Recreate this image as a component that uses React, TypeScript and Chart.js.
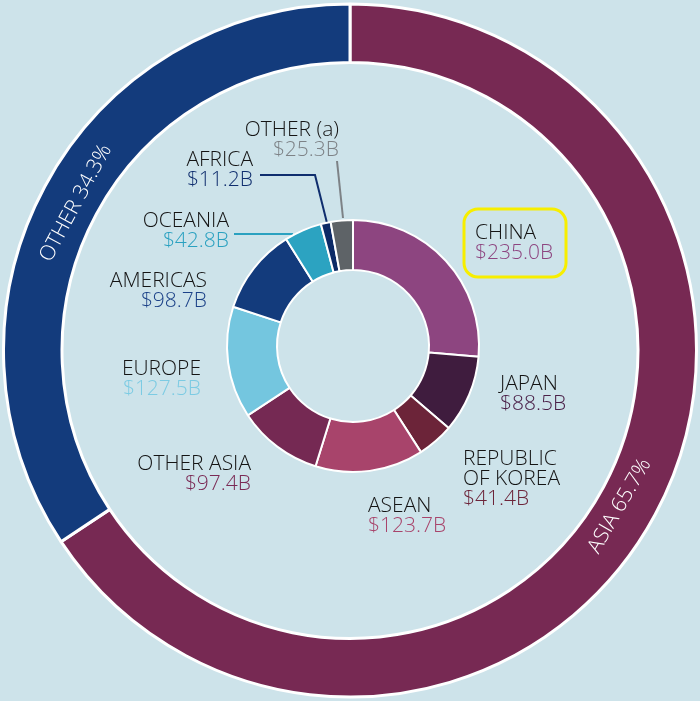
import React, { useEffect, useRef } from "react";
import { Chart, registerables } from "chart.js";

Chart.register(...registerables);

// ---------- data ----------
const regionLabels = ["ASIA", "OTHER"];
const regionShares = [65.7, 34.3];
const regionColors = ["#772953", "#133b7c"];

const marketLabels = [
  "CHINA",
  "JAPAN",
  "REPUBLIC OF KOREA",
  "ASEAN",
  "OTHER ASIA",
  "EUROPE",
  "AMERICAS",
  "OCEANIA",
  "AFRICA",
  "OTHER (a)",
];
const marketValues = [235.0, 88.5, 41.4, 123.7, 97.4, 127.5, 98.7, 42.8, 11.2, 25.3];
const marketColors = [
  "#8d4580",
  "#3f1c3e",
  "#6c2439",
  "#a8446b",
  "#752953",
  "#74c6df",
  "#133b7c",
  "#2ca3c1",
  "#0c2a66",
  "#5e6367",
];
const valueTextColors = [
  "#8d4580",
  "#4a2048",
  "#6c2439",
  "#a8446b",
  "#7a2a55",
  "#7ccbe3",
  "#1c4288",
  "#2aa1c0",
  "#0f2e6e",
  "#7d8286",
];

// ---------- layout (annotation placement) ----------
const BG = "#cde3ea";
const FONT = '300 21px "Open Sans", sans-serif';

type LabelLayout = { lines: string[]; align: "left" | "right"; x: number; y: number };
const labelLayout: LabelLayout[] = [
  { lines: ["CHINA"], align: "left", x: 475, y: 239 },
  { lines: ["JAPAN"], align: "left", x: 500, y: 390 },
  { lines: ["REPUBLIC", "OF KOREA"], align: "left", x: 463, y: 465 },
  { lines: ["ASEAN"], align: "left", x: 368, y: 512 },
  { lines: ["OTHER ASIA"], align: "right", x: 251, y: 470 },
  { lines: ["EUROPE"], align: "right", x: 201, y: 375 },
  { lines: ["AMERICAS"], align: "right", x: 207, y: 287 },
  { lines: ["OCEANIA"], align: "right", x: 229, y: 227 },
  { lines: ["AFRICA"], align: "right", x: 253, y: 166 },
  { lines: ["OTHER (a)"], align: "right", x: 339, y: 136 },
];

const leaderLines: { index: number; pts: [number, number][] }[] = [
  { index: 9, pts: [[337, 161], [343, 218]] },
  { index: 8, pts: [[260, 175], [315, 175], [327, 223]] },
  { index: 7, pts: [[234, 234], [293, 234]] },
];

const fmt = (v: number) => "$" + v.toFixed(1) + "B";

const labelsPlugin = {
  id: "marketLabels",
  afterDraw(chart: any) {
    const ctx: CanvasRenderingContext2D = chart.ctx;
    ctx.save();
    leaderLines.forEach((l) => {
      ctx.beginPath();
      ctx.strokeStyle = valueTextColors[l.index];
      ctx.lineWidth = 2;
      l.pts.forEach((p, i) => (i === 0 ? ctx.moveTo(p[0], p[1]) : ctx.lineTo(p[0], p[1])));
      ctx.stroke();
    });
    ctx.font = FONT;
    ctx.textBaseline = "alphabetic";
    labelLayout.forEach((lay, i) => {
      ctx.textAlign = lay.align;
      let y = lay.y;
      ctx.fillStyle = "#141414";
      lay.lines.forEach((t) => {
        ctx.fillText(t, lay.x, y);
        y += 20;
      });
      ctx.fillStyle = valueTextColors[i];
      ctx.fillText(fmt(marketValues[i]), lay.x, y);
    });
    ctx.beginPath();
    ctx.strokeStyle = "#f7ee00";
    ctx.lineWidth = 3;
    (ctx as any).roundRect(464, 209, 102, 68, 14);
    ctx.stroke();
    ctx.restore();
  },
};

const ringTextPlugin = {
  id: "ringText",
  afterDatasetsDraw(chart: any) {
    const ctx: CanvasRenderingContext2D = chart.ctx;
    const meta = chart.getDatasetMeta(0);
    ctx.save();
    ctx.font = FONT;
    ctx.fillStyle = "#ffffff";
    ctx.textAlign = "center";
    ctx.textBaseline = "middle";
    meta.data.forEach((arc: any, i: number) => {
      const p = arc.getProps(["x", "y", "startAngle", "endAngle", "innerRadius", "outerRadius"], true);
      const mid = (p.startAngle + p.endAngle) / 2 + (i === 0 ? 0.03 : 0);
      const r = (p.innerRadius + p.outerRadius) / 2 - 6;
      const x = p.x + Math.cos(mid) * r;
      const y = p.y + Math.sin(mid) * r;
      let rot = mid - Math.PI / 2;
      while (rot > Math.PI / 2) rot -= Math.PI;
      while (rot <= -Math.PI / 2) rot += Math.PI;
      ctx.save();
      ctx.translate(x, y);
      ctx.rotate(rot);
      ctx.fillText(regionLabels[i] + " " + regionShares[i].toFixed(1) + "%", 0, 0);
      ctx.restore();
    });
    ctx.restore();
  },
};

export default function App() {
  const outerRef = useRef<HTMLCanvasElement | null>(null);
  const innerRef = useRef<HTMLCanvasElement | null>(null);

  useEffect(() => {
    document.body.style.margin = "0";
    document.body.style.background = BG;
    const outer = new Chart(outerRef.current!, {
      type: "doughnut",
      data: {
        labels: regionLabels,
        datasets: [
          {
            data: regionShares,
            backgroundColor: regionColors,
            borderColor: "#ffffff",
            borderWidth: 3,
          },
        ],
      },
      options: {
        responsive: false,
        animation: false,
        cutout: 288,
        layout: { padding: 2 },
        events: [],
        plugins: { legend: { display: false }, tooltip: { enabled: false } },
      },
      plugins: [ringTextPlugin, labelsPlugin],
    } as any);
    const inner = new Chart(innerRef.current!, {
      type: "doughnut",
      data: {
        labels: marketLabels,
        datasets: [
          {
            data: marketValues,
            backgroundColor: marketColors,
            borderColor: "#ffffff",
            borderWidth: 2,
          },
        ],
      },
      options: {
        responsive: false,
        animation: false,
        cutout: 76,
        layout: { padding: 3 },
        events: [],
        plugins: { legend: { display: false }, tooltip: { enabled: false } },
      },
    } as any);
    return () => {
      outer.destroy();
      inner.destroy();
    };
  }, []);

  return (
    <div
      style={{
        position: "absolute",
        left: 0,
        top: 0,
        width: 700,
        height: 701,
        background: BG,
        overflow: "hidden",
      }}
    >
      <canvas
        ref={outerRef}
        width={700}
        height={701}
        style={{ position: "absolute", left: 0, top: 0, width: 700, height: 701 }}
      />
      <canvas
        ref={innerRef}
        width={260}
        height={260}
        style={{ position: "absolute", left: 223, top: 216, width: 260, height: 260 }}
      />
    </div>
  );
}
